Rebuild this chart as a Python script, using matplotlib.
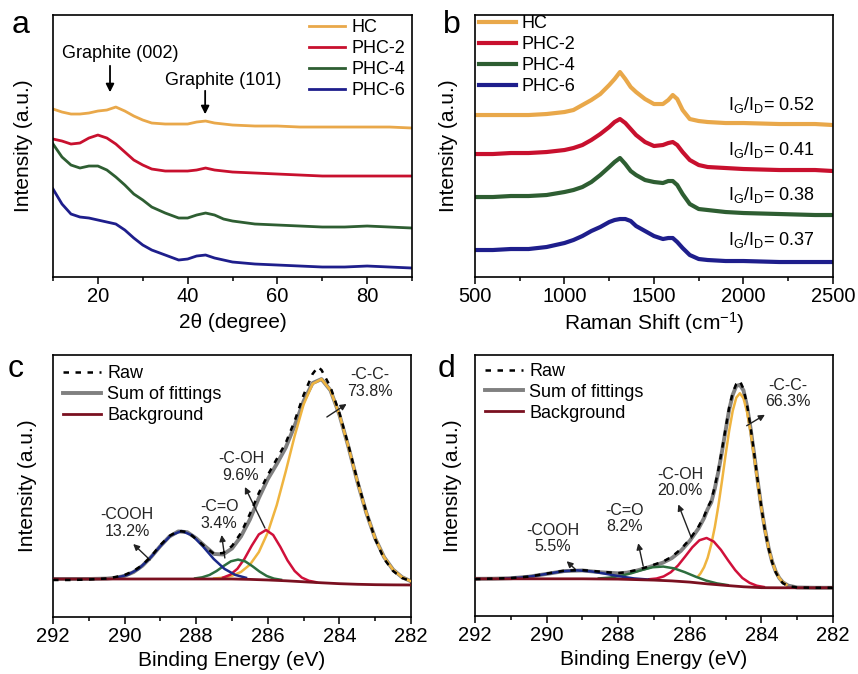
import matplotlib
matplotlib.use("Agg")
import matplotlib.pyplot as plt
from matplotlib.ticker import MultipleLocator

plt.rcParams['font.family'] = ['Liberation Sans', 'DejaVu Sans']
plt.rcParams['mathtext.default'] = 'regular'

# ---- data (intensity = pixels above the x axis) ----
# (a) XRD
two_theta = [10, 12, 14, 16, 18, 20, 22, 24, 26, 28, 30, 32, 35, 38, 40, 42, 44, 46, 48, 50,
             55, 60, 65, 70, 75, 80, 85, 90]
xrd_hc = [168, 165, 163, 163, 164, 166, 167, 170, 166, 161, 157, 154, 153, 153, 153, 155, 156, 154,
          153, 152, 151, 151, 150, 150, 150, 150, 150, 149]
xrd_phc2 = [138, 136, 133, 134, 139, 142, 139, 133, 125, 117, 112, 108, 106, 106, 106, 107, 109, 107,
            106, 105, 104, 103, 102, 101, 101, 101, 101, 101]
xrd_phc4 = [133, 120, 112, 109, 111, 111, 107, 100, 92, 83, 77, 70, 64, 59, 59, 62, 64, 62,
            58, 56, 53, 52, 51, 50, 50, 51, 50, 49]
xrd_phc6 = [88, 73, 63, 60, 59, 57, 55, 53, 47, 39, 32, 27, 22, 17, 18, 21, 22, 19,
            17, 15, 13, 12, 11, 10, 10, 11, 10, 9]

# (b) Raman
raman_shift = [500, 600, 700, 800, 900, 1000, 1050, 1100, 1150, 1200, 1250, 1280, 1310, 1340, 1370,
               1400, 1450, 1500, 1550, 1580, 1605, 1630, 1660, 1700, 1750, 1800, 1900, 2000, 2200,
               2400, 2500]
ram_hc = [162, 162, 162, 162, 163, 165, 167, 172, 177, 183, 192, 198, 205, 198, 190, 185, 178, 173,
          173, 177, 182, 178, 167, 158, 156, 155, 154, 154, 153, 153, 152]
ram_phc2 = [123, 123, 124, 124, 125, 127, 129, 132, 137, 143, 150, 155, 158, 154, 148, 142, 135, 131,
            132, 134, 135, 132, 125, 117, 112, 110, 109, 108, 107, 107, 106]
ram_phc4 = [80, 80, 81, 81, 82, 85, 87, 90, 95, 102, 110, 115, 119, 113, 106, 102, 97, 95,
            94, 96, 96, 92, 83, 73, 68, 67, 65, 64, 63, 62, 62]
ram_phc6 = [27, 27, 28, 28, 30, 34, 37, 41, 46, 50, 55, 57, 58, 58, 56, 51, 46, 41,
            38, 39, 39, 35, 29, 22, 18, 17, 16, 16, 15, 15, 15]
ratio_labels = ['0.52', '0.41', '0.38', '0.37']
ratio_y = [172, 127, 82, 37]

sample_names = ['HC', 'PHC-2', 'PHC-4', 'PHC-6']

# (c) XPS C1s, HC
bg_c_e = [292, 291, 290, 289, 288, 287, 286.5, 286, 285.5, 285, 284.5, 284, 283.5, 283, 282.5, 282]
bg_c = [38, 38, 38, 38, 38, 38, 37.6, 37, 36.2, 35.2, 34.2, 33.3, 32.7, 32.3, 32.1, 32]
cc_c_e = [287.5, 287.25, 287, 286.75, 286.5, 286.25, 286, 285.75, 285.5, 285.25, 285, 284.75, 284.5,
          284.25, 284, 283.75, 283.5, 283.25, 283, 282.75, 282.5, 282.25, 282]
cc_c = [38.5, 39.3, 41.2, 45, 52.3, 64.9, 84.6, 111.9, 145.4, 181, 212.5, 233.1, 237.9,
        226.7, 202.3, 170.5, 135.7, 104.4, 78.6, 59.8, 47.3, 39.8, 35.7]
coh_c_e = [287.25, 287.05, 286.85, 286.65, 286.45, 286.25, 286.05, 285.85, 285.65, 285.45, 285.25,
           285.05, 284.85, 284.65]
coh_c = [39.4, 42.2, 48.2, 58.3, 71.2, 82.6, 87, 82, 70.1, 56.6, 46, 39.4, 36.2, 34.8]
co_c_e = [288.03, 287.83, 287.63, 287.43, 287.23, 287.03, 286.83, 286.63, 286.43, 286.23, 286.03,
          285.83, 285.63]
co_c = [38.6, 39.7, 42, 46, 51.1, 55.7, 57.4, 55.6, 50.8, 45.4, 41, 38.4, 37.2]
cooh_c_e = [290.21, 289.91, 289.61, 289.31, 289.01, 288.71, 288.41, 288.11, 287.81, 287.51, 287.21,
            286.91, 286.61]
cooh_c = [39.5, 42.2, 48.1, 58, 70.5, 81.6, 86, 81.6, 70.5, 58, 48.1, 42.1, 39.2]
sum_c_e = [292, 291.5, 291, 290.5, 290.25, 290, 289.75, 289.5, 289.25, 289, 288.75, 288.5, 288.25,
           288, 287.75, 287.5, 287.25, 287, 286.75, 286.5, 286.25, 286, 285.75, 285.5, 285.25, 285,
           284.75, 284.5, 284.25, 284, 283.75, 283.5, 283.25, 283, 282.75, 282.5, 282.25, 282]
sum_c = [38, 38, 38, 38.4, 39.2, 41.1, 44.9, 51.3, 60.4, 71, 80.4, 85.6, 84.8, 78.7, 70.6, 63, 62.5,
         68.5, 80.5, 97.5, 119, 137.9, 153, 169.3, 191.3, 215.8, 233.9, 237.9, 226.7, 202.3, 170.5,
         135.7, 104.4, 78.6, 59.8, 47.3, 39.8, 35.7]
raw_c_e = [292, 291.5, 291, 290.5, 290.25, 290, 289.75, 289.5, 289.25, 289, 288.75, 288.5, 288.25,
           288, 287.75, 287.5, 287.25, 287, 286.75, 286.5, 286.25, 286, 285.75, 285.5, 285.25, 285,
           284.75, 284.6, 284.5, 284.25, 284, 283.75, 283.5, 283.25, 283, 282.75, 282.5, 282.25, 282]
raw_c = [37, 37, 37.5, 38.5, 40, 42, 46, 52, 61, 72, 81, 86, 85, 78, 70, 63, 64, 71, 84, 103, 124,
         142, 158, 174, 196, 222, 243, 250, 247, 230, 204, 172, 137, 105, 78, 58, 46, 39, 36]

# (d) XPS C1s, PHC
bg_d_e = [292, 289, 288, 287, 286.5, 286, 285.5, 285, 284.5, 284, 283.5, 282]
bg_d = [37.3, 37.3, 37, 36, 35.2, 34, 32.2, 30.7, 29.3, 28.4, 28.3, 28.3]
cc_d_e = [285.75, 285.7, 285.6, 285.5, 285.4, 285.3, 285.2, 285.1, 285.0, 284.9, 284.8, 284.7, 284.6,
          284.5, 284.4, 284.3, 284.2, 284.1, 284.0, 283.9, 283.8, 283.7, 283.6, 283.5, 283.4, 283.3]
cc_d = [40.5, 42.7, 49, 58.4, 71.8, 89.3, 110.8, 135.5, 161.5, 185.8, 205.9, 219.2, 223.6,
        218.6, 204.9, 184.3, 159.5, 133.1, 108.1, 86.2, 68.3, 54.5, 44.7, 38.1, 33.8, 31.3]
coh_d_e = [287.13, 286.93, 286.73, 286.53, 286.33, 286.13, 285.93, 285.73, 285.53, 285.33, 285.13,
           284.93, 284.73, 284.53, 284.33, 284.13, 283.93]
coh_d = [36.9, 37.6, 39.7, 43.9, 50.6, 59.6, 68.9, 76, 78.3, 74.7, 66.4, 55.9, 46, 38.1, 33.3,
         30.4, 29.1]
co_d_e = [288.54, 288.24, 287.94, 287.64, 287.34, 287.04, 286.74, 286.44, 286.14, 285.84, 285.54,
          285.24, 284.94]
co_d = [37.7, 38.5, 40.2, 42.8, 46.1, 48.9, 49.6, 47.8, 44, 39.5, 35.5, 32.7, 31]
cooh_d_e = [291.16, 290.76, 290.36, 289.96, 289.56, 289.16, 288.76, 288.36, 287.96, 287.56, 287.16]
cooh_d = [37.7, 38.4, 40.1, 42.5, 44.8, 45.8, 44.8, 42.4, 39.8, 37.7, 36.6]
sum_d_e = [292, 291.5, 291, 290.5, 290, 289.5, 289, 288.5, 288, 287.75, 287.5, 287.25, 287, 286.75,
           286.5, 286.25, 286, 285.75, 285.6, 285.5, 285.4, 285.3, 285.2, 285.1, 285.0, 284.9, 284.8,
           284.7, 284.6, 284.5, 284.4, 284.3, 284.2, 284.1, 284.0, 283.9, 283.8, 283.7, 283.6, 283.5,
           283.4, 283.25, 283, 282.5, 282]
sum_d = [37.3, 37.4, 37.9, 39.4, 42.2, 45.1, 45.7, 43.9, 42.8, 43.5, 45.4, 47.8, 50.6, 53.5, 58.1,
         65.3, 75.4, 88.2, 98.3, 107.3, 114, 128, 145, 165, 186, 207, 222, 231, 232, 226.6, 210.5,
         188.1, 162, 134.7, 109.1, 86.8, 68.7, 54.7, 44.8, 38.1, 33.8, 30.5, 28.6, 28.3, 28.3]
raw_d = [37, 37.5, 38, 39.5, 42.5, 45.5, 46, 44.5, 43, 44, 46, 48.5, 51.5, 54.5, 59.5, 67, 77, 90,
         100, 109, 116, 130, 147, 167, 188, 209, 224, 233, 236, 228, 212, 189, 163, 135, 109, 86, 68,
         54, 44, 37.5, 33, 30, 28.6, 28.3, 28.3]

# peak labels: (text, text E, text y, arrow head E, head y, tail E, tail y)
peaks_c = [('-C-C-\n73.8%', 283.15, 234, 283.8, 213, 284.35, 200),
           ('-C-OH\n9.6%', 286.75, 150, 286.64, 130, 286.08, 89),
           ('-C=O\n3.4%', 287.36, 102, 287.29, 82, 287.2, 59),
           ('-COOH\n13.2%', 289.93, 94, 289.76, 73, 289.29, 57)]
peaks_d = [('-C-C-\n66.3%', 283.26, 223, 283.9, 202, 284.41, 191),
           ('-C-OH\n20.0%', 286.27, 134, 286.32, 112, 285.95, 78),
           ('-C=O\n8.2%', 287.81, 98, 287.44, 73, 287.3, 50),
           ('-COOH\n5.5%', 289.82, 78, 289.44, 55, 289.2, 47)]

colors = ['#E9A84A', '#C8102E', '#2E5E32', '#1E1E8C']
c_cc, c_coh, c_co, c_cooh = '#EFB43F', '#D0103A', '#2D6E3E', '#1B2A8A'
c_sum, c_bg = '#808080', '#7A1020'

fig = plt.figure(figsize=(8.58, 6.74), dpi=100)
ax_a = fig.add_axes([0.0618, 0.589, 0.4184, 0.3887])
ax_b = fig.add_axes([0.5536, 0.589, 0.4172, 0.3887])
ax_c = fig.add_axes([0.0618, 0.0846, 0.4172, 0.3887])
ax_d = fig.add_axes([0.5536, 0.0861, 0.4172, 0.3872])

for ax in (ax_a, ax_b, ax_c, ax_d):
    for s in ax.spines.values():
        s.set_linewidth(1.2)
    ax.tick_params(axis='y', left=False, labelleft=False)
    ax.tick_params(axis='x', which='major', direction='out', length=5, width=1.1,
                   labelsize=14.5, pad=2)
    ax.tick_params(axis='x', which='minor', direction='out', length=3, width=1.1)
    ax.set_ylim(0, 262)
    ax.set_ylabel('Intensity (a.u.)', fontsize=15)

# (a)
for y, col, name in zip([xrd_hc, xrd_phc2, xrd_phc4, xrd_phc6], colors, sample_names):
    ax_a.plot(two_theta, y, color=col, lw=2, label=name)
ax_a.set_xlim(10, 90)
ax_a.xaxis.set_major_locator(MultipleLocator(20))
ax_a.xaxis.set_minor_locator(MultipleLocator(10))
ax_a.set_xlabel('2θ (degree)', fontsize=15, labelpad=5)
ax_a.yaxis.set_label_coords(-0.056, 0.5)
ax_a.text(24.9, 224, 'Graphite (002)', fontsize=13, ha='center', va='center')
ax_a.annotate('', xy=(22.7, 182), xytext=(22.7, 214),
              arrowprops=dict(arrowstyle='-|>', color='black', lw=1.3, mutation_scale=12))
ax_a.text(47.9, 197, 'Graphite (101)', fontsize=13, ha='center', va='center')
ax_a.annotate('', xy=(43.9, 160), xytext=(43.9, 189),
              arrowprops=dict(arrowstyle='-|>', color='black', lw=1.3, mutation_scale=12))
ax_a.legend(loc='upper left', bbox_to_anchor=(0.712, 0.985), frameon=False, fontsize=13,
            handlelength=2.0, handletextpad=0.4, labelspacing=0.22, borderpad=0,
            borderaxespad=0)

# (b)
for y, col, name in zip([ram_hc, ram_phc2, ram_phc4, ram_phc6], colors, sample_names):
    ax_b.plot(raman_shift, y, color=col, lw=3, label=name)
for lab, yy in zip(ratio_labels, ratio_y):
    ax_b.text(1913, yy, r'$\mathregular{I_G/I_D}$= ' + lab, fontsize=13, ha='left', va='center')
ax_b.set_xlim(500, 2500)
ax_b.xaxis.set_major_locator(MultipleLocator(500))
ax_b.xaxis.set_minor_locator(MultipleLocator(250))
ax_b.set_xlabel(r'Raman Shift (cm$^{-1}$)', fontsize=15, labelpad=3)
ax_b.yaxis.set_label_coords(-0.047, 0.5)
ax_b.legend(loc='upper left', bbox_to_anchor=(0.01, 1.0), frameon=False, fontsize=13,
            handlelength=2.1, handletextpad=0.3, labelspacing=0.22, borderpad=0,
            borderaxespad=0)


def xps_panel(ax, bg_e, bg, comps, sum_e, sm, raw_e, raw, peaks, leg_xy):
    ax.plot(sum_e, sm, color=c_sum, lw=2.8, label='Sum of fittings', zorder=2)
    for (e, y), col in zip(comps, [c_cc, c_coh, c_co, c_cooh]):
        ax.plot(e, y, color=col, lw=1.8, zorder=3)
    ax.plot(bg_e, bg, color=c_bg, lw=2, label='Background', zorder=4)
    ax.plot(raw_e, raw, color='black', lw=1.8, ls=(0, (2.2, 2.6)), label='Raw', zorder=5)
    for txt, tx, ty, hx, hy, sx, sy in peaks:
        ax.text(tx, ty, txt, fontsize=11.5, ha='center', va='center', linespacing=1.1,
                color='#222222')
        ax.annotate('', xy=(hx, hy), xytext=(sx, sy),
                    arrowprops=dict(arrowstyle='-|>', color='#222222', lw=1.0,
                                    mutation_scale=9, shrinkA=0, shrinkB=0))
    ax.set_xlim(292, 282)
    ax.xaxis.set_major_locator(MultipleLocator(2))
    ax.xaxis.set_minor_locator(MultipleLocator(1))
    ax.set_xlabel('Binding Energy (eV)', fontsize=15, labelpad=4)
    h, l = ax.get_legend_handles_labels()
    order = [l.index('Raw'), l.index('Sum of fittings'), l.index('Background')]
    ax.legend([h[i] for i in order], [l[i] for i in order], loc='upper left',
              bbox_to_anchor=leg_xy, frameon=False, fontsize=13, handlelength=2.1,
              handletextpad=0.35, labelspacing=0.22, borderpad=0, borderaxespad=0)


xps_panel(ax_c, bg_c_e, bg_c,
          [(cc_c_e, cc_c), (coh_c_e, coh_c), (co_c_e, co_c), (cooh_c_e, cooh_c)],
          sum_c_e, sum_c, raw_c_e, raw_c, peaks_c, (0.028, 0.96))
ax_c.yaxis.set_label_coords(-0.045, 0.5)

xps_panel(ax_d, bg_d_e, bg_d,
          [(cc_d_e, cc_d), (coh_d_e, coh_d), (co_d_e, co_d), (cooh_d_e, cooh_d)],
          sum_d_e, sum_d, sum_d_e, raw_d, peaks_d, (0.028, 0.97))
ax_d.yaxis.set_label_coords(-0.036, 0.5)

# panel letters
for lab, x, y in [('a', 12, 33), ('b', 443, 33), ('c', 8, 377), ('d', 438, 377)]:
    fig.text(x / 858, 1 - y / 674, lab, fontsize=23, ha='left', va='baseline')

fig.savefig('out.png', dpi=100)
